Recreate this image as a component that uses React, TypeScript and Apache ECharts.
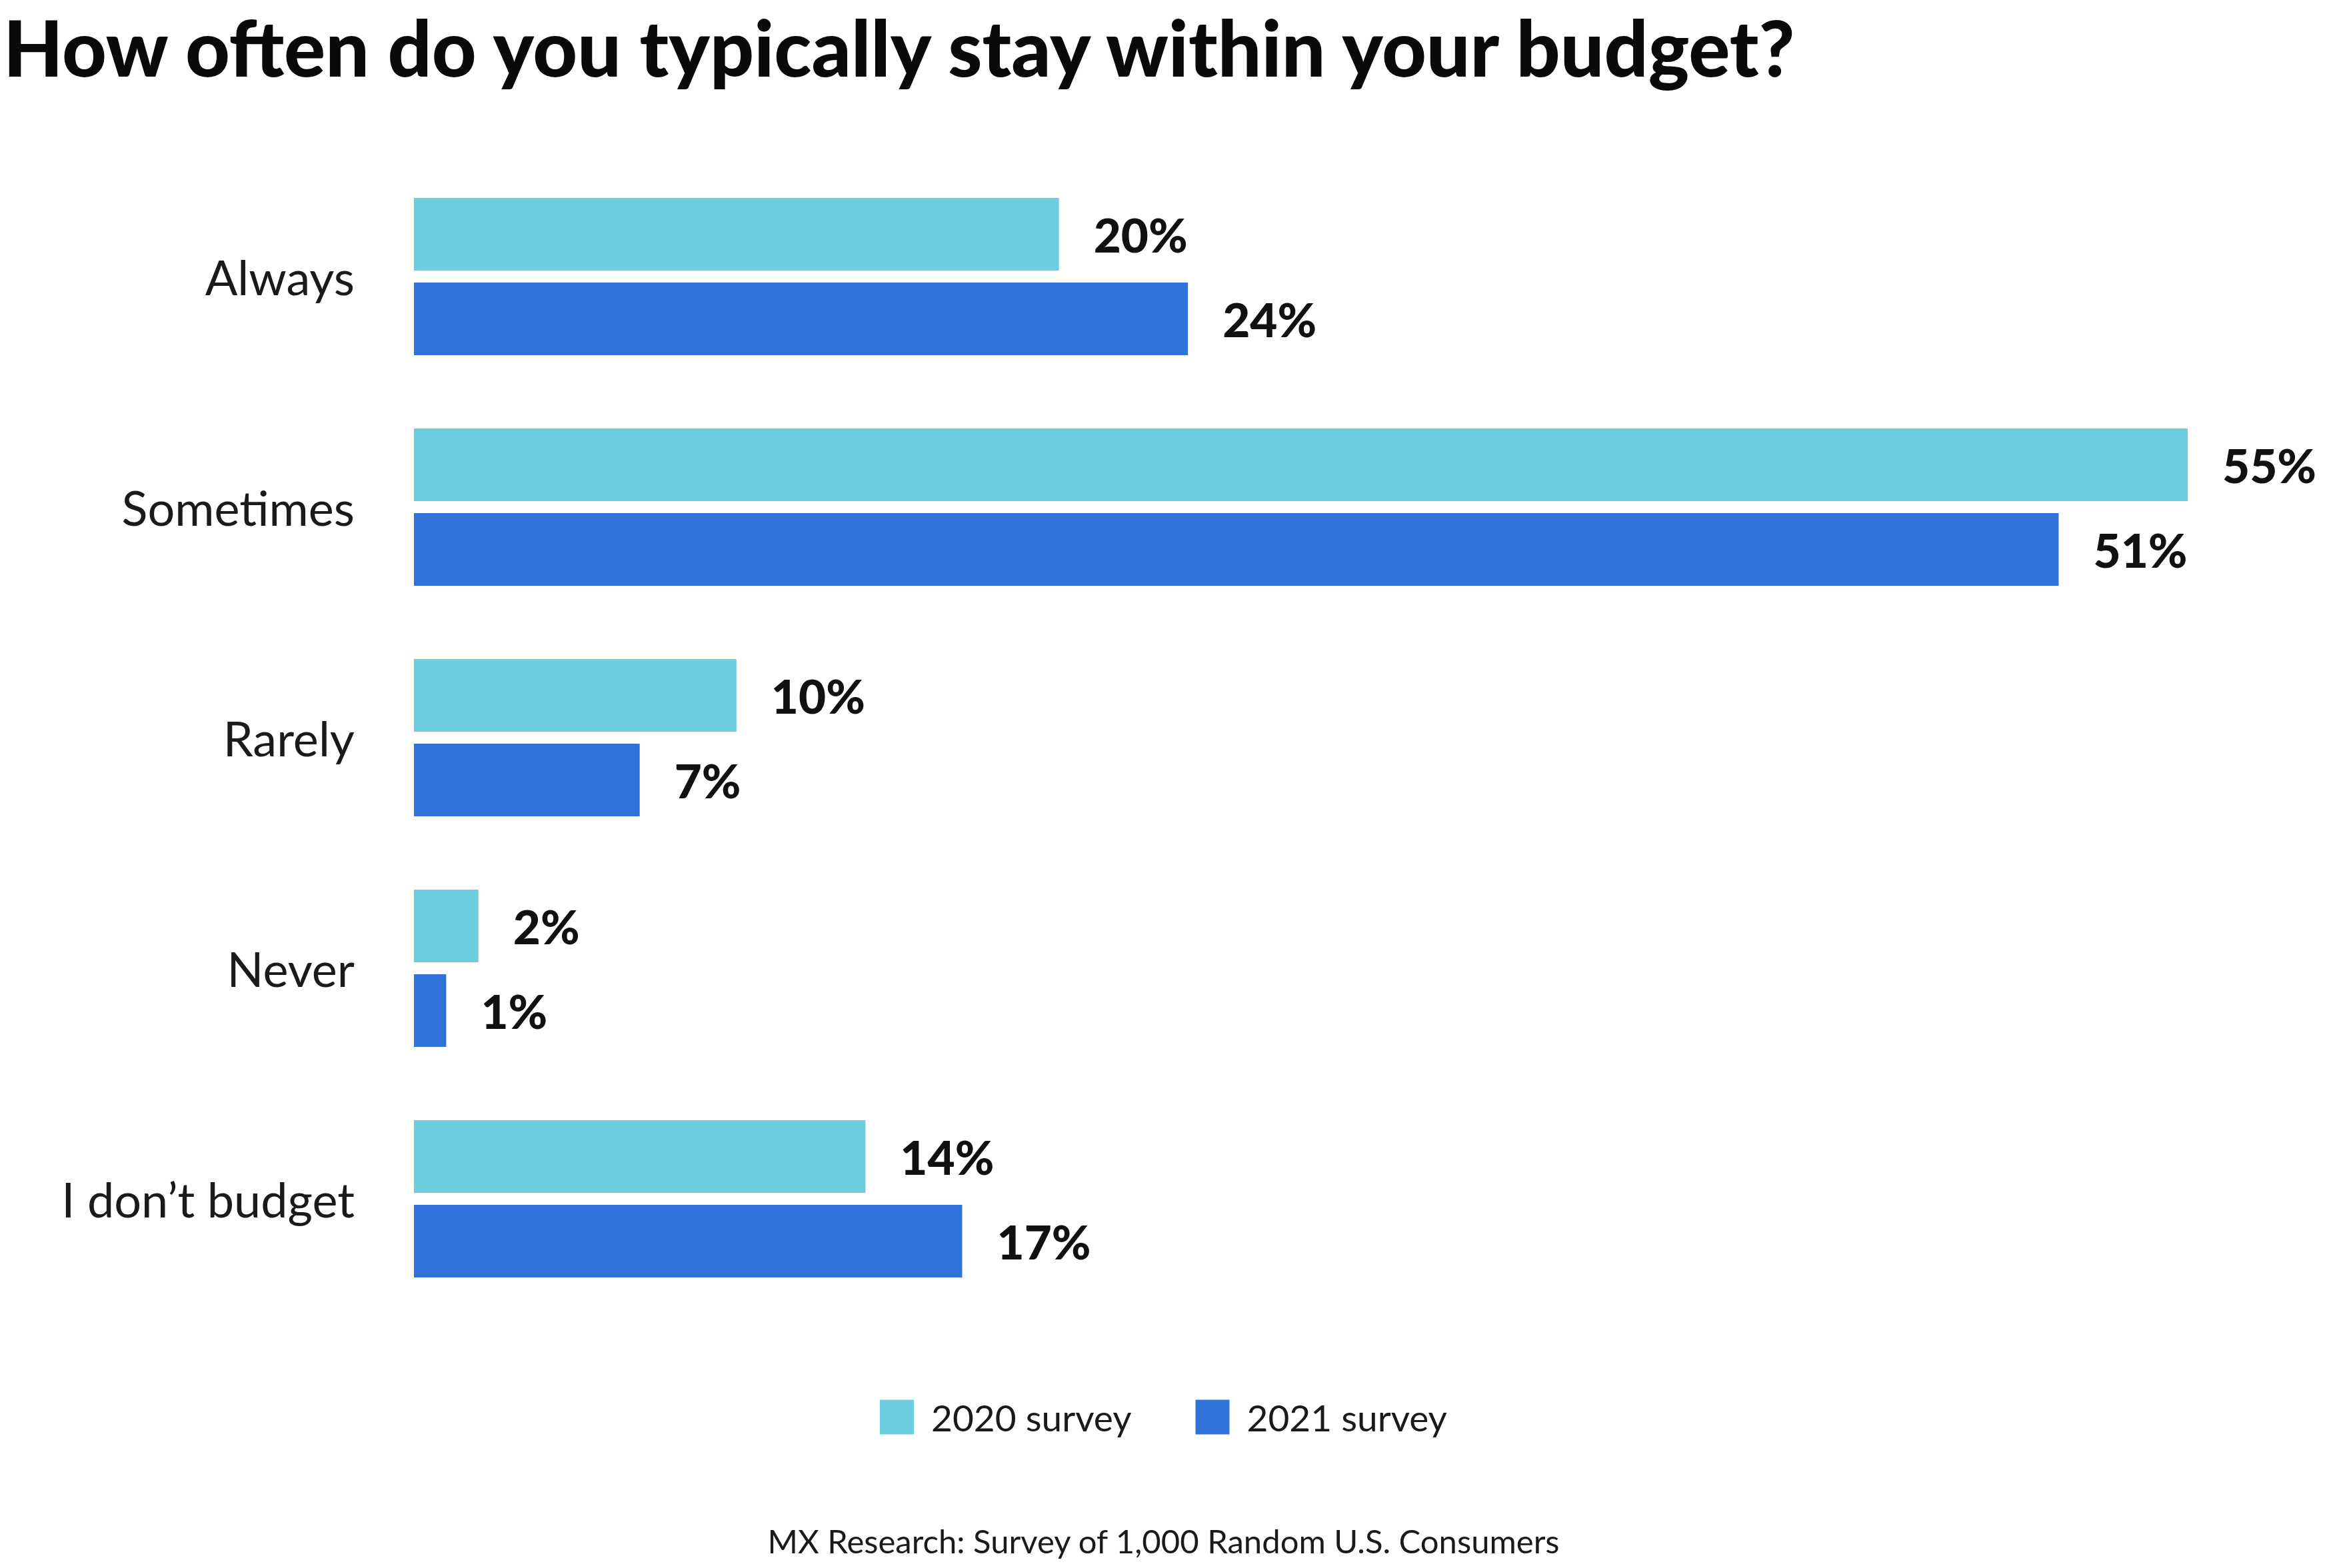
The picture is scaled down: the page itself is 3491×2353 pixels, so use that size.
import React, { useEffect, useRef } from "react";
import * as echarts from "echarts";

const categories = ["Always", "Sometimes", "Rarely", "Never", "I don’t budget"];
const series2020 = [20, 55, 10, 2, 14];
const series2021 = [24, 51, 7, 1, 17];
const seriesNames = ["2020 survey", "2021 survey"];
const titleText = "How often do you typically stay within your budget?";
const footerText = "MX Research: Survey of 1,000 Random U.S. Consumers";

const FONT = "Lato, 'Noto Sans', sans-serif";

export default function App() {
  const ref = useRef<HTMLDivElement>(null);
  useEffect(() => {
    document.body.style.margin = "0";
    const chart = echarts.init(ref.current!, null, { renderer: "svg" });
    const labelCfg = {
      show: true,
      position: "right",
      distance: 52,
      formatter: (p: any) => `${p.value}%`,
      fontFamily: FONT,
      fontWeight: 900,
      fontSize: 71,
      color: "#111111",
    };
    chart.setOption({
      animation: false,
      backgroundColor: "#ffffff",
      title: [
        {
          text: titleText,
          left: 0,
          top: 7,
          textStyle: { fontFamily: FONT, fontWeight: 900, fontSize: 116, color: "#0a0a0a" },
        },
        {
          text: footerText,
          left: "center",
          top: 2282,
          textStyle: { fontFamily: FONT, fontWeight: "normal", fontSize: 49, color: "#1a1a1a" },
        },
      ],
      legend: {
        data: seriesNames,
        left: "center",
        top: 2094,
        itemWidth: 51,
        itemHeight: 52,
        itemGap: 96,
        icon: "rect",
        textStyle: { fontFamily: FONT, fontSize: 55, color: "#1a1a1a", padding: [0, 0, 0, 21] },
      },
      grid: { left: 621, top: 242, width: 2661, height: 1730, containLabel: false },
      xAxis: {
        type: "value",
        min: 0,
        max: 55,
        show: false,
      },
      yAxis: {
        type: "category",
        data: categories,
        inverse: true,
        axisLine: { show: false },
        axisTick: { show: false },
        axisLabel: { margin: 89, fontFamily: FONT, fontSize: 72, color: "#1a1a1a" },
      },
      series: [
        {
          name: seriesNames[0],
          type: "bar",
          data: series2020,
          barWidth: "31.5%",
          barGap: "16.5%",
          itemStyle: { color: "#6BCDDD" },
          label: labelCfg,
        },
        {
          name: seriesNames[1],
          type: "bar",
          data: series2021,
          barWidth: "31.5%",
          barGap: "16.5%",
          itemStyle: { color: "#2F72D9" },
          label: labelCfg,
        },
      ],
    });
    return () => chart.dispose();
  }, []);
  return (
    <div
      ref={ref}
      style={{ position: "absolute", left: 0, top: 0, width: 3491, height: 2353 }}
    />
  );
}
